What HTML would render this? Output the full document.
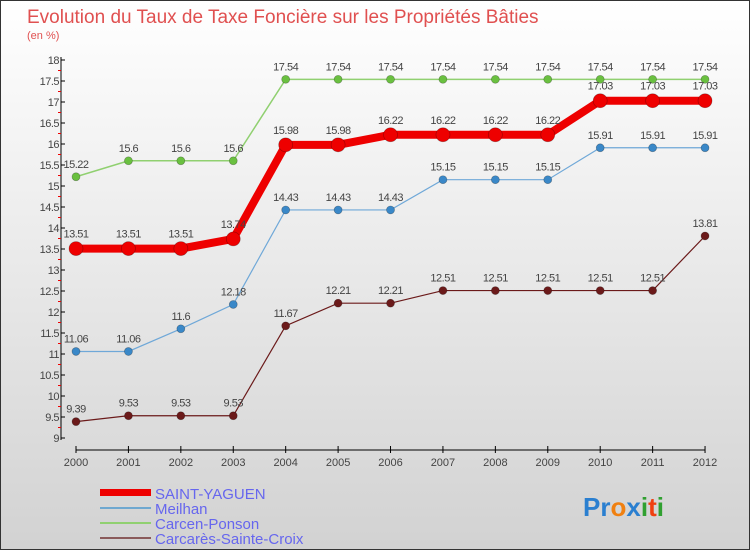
<!DOCTYPE html>
<html><head><meta charset="utf-8"><style>
body{margin:0;width:750px;height:550px;overflow:hidden;font-family:"Liberation Sans",sans-serif}
#wrap{position:relative;width:748px;height:548px;border:1px solid #333;background:linear-gradient(#fff,#d2d2d2)}
svg text{font-family:"Liberation Sans",sans-serif}
</style></head><body>
<div id="wrap">
<svg id="chart" width="750" height="550" style="position:absolute;left:-1px;top:-1px">
<text x="27" y="23" font-size="19" fill="#e05050">Evolution du Taux de Taxe Foncière sur les Propriétés Bâties</text>
<text x="27" y="39" font-size="11" fill="#e05050">(en %)</text>
<g id="axes"></g><g id="series"></g>
<g>
<rect x="100" y="489" width="51" height="7" fill="#e00"/>
<text x="155" y="499" font-size="15" fill="#6666ee">SAINT-YAGUEN</text>
<rect x="100" y="507" width="51" height="2" fill="#6fa8d0"/>
<text x="155" y="514" font-size="15" fill="#6666ee">Meilhan</text>
<rect x="100" y="522" width="51" height="2" fill="#90d070"/>
<text x="155" y="529" font-size="15" fill="#6666ee">Carcen-Ponson</text>
<rect x="100" y="537" width="51" height="2" fill="#8a5a5a"/>
<text x="155" y="544" font-size="15" fill="#6666ee">Carcarès-Sainte-Croix</text>
</g>
<text x="583" y="516" font-size="26" font-weight="bold"><tspan fill="#2a7fd0">Pr</tspan><tspan fill="#f08010">o</tspan><tspan fill="#2a7fd0">x</tspan><tspan fill="#30a030">i</tspan><tspan fill="#f04010">t</tspan><tspan fill="#30a030">i</tspan></text>
</svg></div>
<script>
const years=[2000,2001,2002,2003,2004,2005,2006,2007,2008,2009,2010,2011,2012];
const saintYaguen=[13.51,13.51,13.51,13.74,15.98,15.98,16.22,16.22,16.22,16.22,17.03,17.03,17.03];
const meilhan=[11.06,11.06,11.6,12.18,14.43,14.43,14.43,15.15,15.15,15.15,15.91,15.91,15.91];
const carcenPonson=[15.22,15.6,15.6,15.6,17.54,17.54,17.54,17.54,17.54,17.54,17.54,17.54,17.54];
const carcares=[9.39,9.53,9.53,9.53,11.67,12.21,12.21,12.51,12.51,12.51,12.51,12.51,13.81];
const yTicks=[9,9.5,10,10.5,11,11.5,12,12.5,13,13.5,14,14.5,15,15.5,16,16.5,17,17.5,18];
const NS="http://www.w3.org/2000/svg";
const X=i=>76+i*52.42, Y=v=>438-(v-9)*42;
function mk(t,a,p){const e=document.createElementNS(NS,t);for(const k in a)e.setAttribute(k,a[k]);p.appendChild(e);return e;}
const ax=document.getElementById('axes');
let l=mk('line',{x1:61,y1:57,x2:61,y2:440,stroke:'#000'},ax);


yTicks.forEach((v,k)=>{mk('line',{x1:61,y1:Y(v),x2:65,y2:Y(v),stroke:'#000'},ax);
 if(k>0) mk('line',{x1:58,y1:Y(v)+10.5,x2:61,y2:Y(v)+10.5,stroke:'#e00'},ax);
 const t=mk('text',{x:59,y:Y(v)+4,'font-size':11,fill:'#444','text-anchor':'end','letter-spacing':'-0.5'},ax);t.textContent=v;
 
 });
l=mk('line',{x1:X(0),y1:450,x2:X(12),y2:450,stroke:'#000'},ax);


years.forEach((y,i)=>{mk('line',{x1:X(i),y1:446,x2:X(i),y2:453,stroke:'#000'},ax);
 const t=mk('text',{x:X(i),y:466,'font-size':11,fill:'#444','text-anchor':'middle'},ax);t.textContent=y;
 
 });
const sg=document.getElementById('series');
function draw(vals,color,w,r,name,dy){
 const g=mk('g',{},sg);
 
 
 mk('polyline',{points:vals.map((v,i)=>X(i)+','+Y(v)).join(' '),fill:'none',stroke:color,'stroke-width':w},g);
 vals.forEach((v,i)=>{const c=mk('circle',{cx:X(i),cy:Y(v),r:r,fill:color,stroke:'rgba(0,0,0,0.3)','stroke-width':0.7},g);
  
  
  const t=mk('text',{x:X(i),y:Y(v)-dy,'font-size':11,fill:'#444','text-anchor':'middle','letter-spacing':'-0.5'},g);t.textContent=v;
  
  });
}
draw(carcares,'#6b1a1a',1.2,4,'carcares-sainte-croix',9);
draw(meilhan,'#6fa8d8',1.2,4,'meilhan',9);
draw(carcenPonson,'#90d070',1.5,4,'carcen-ponson',9);
sg.lastChild.querySelectorAll('circle').forEach(c=>c.setAttribute('fill','#6ac040'));
sg.children[1].querySelectorAll('circle').forEach(c=>c.setAttribute('fill','#3a88c8'));
draw(saintYaguen,'#ee0000',8,7,'saint-yaguen',11);
</script>
</body></html>
